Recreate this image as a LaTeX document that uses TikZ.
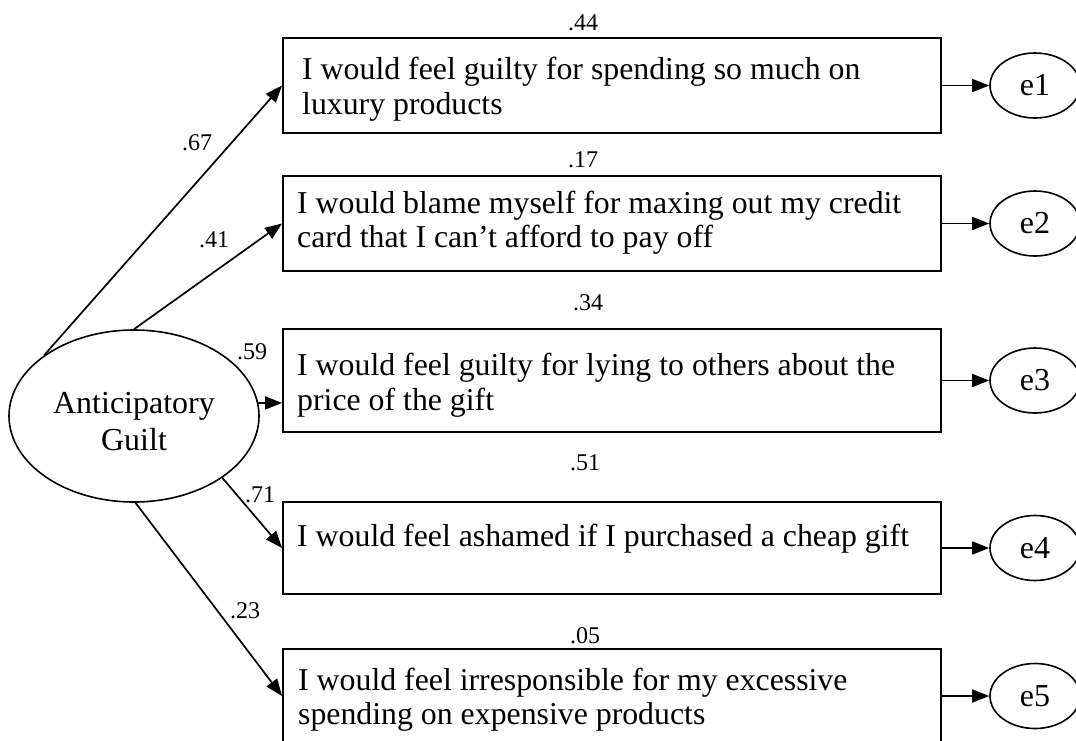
\documentclass[tikz,border=0pt]{standalone}
\usepackage{fontspec}
\setmainfont{Liberation Serif}
\usetikzlibrary{shapes.geometric,arrows.meta}
\begin{document}
\begin{tikzpicture}[x=1pt,y=-1pt,
  itembox/.style={draw,line width=1.9pt,minimum width=658pt,inner sep=0pt},
  itemtext/.style={anchor=north west,inner sep=0pt,align=left,font=\fontsize{31.8}{34.5}\selectfont},
  errnode/.style={draw,ellipse,line width=1.6pt,minimum width=90pt,minimum height=65pt,inner sep=0pt,font=\fontsize{32}{34.5}\selectfont},
  latent/.style={draw,ellipse,line width=1.6pt,minimum width=250pt,minimum height=172pt,inner sep=0pt},
  latenttext/.style={inner sep=0pt,align=center,font=\fontsize{32}{37}\selectfont},
  link/.style={line width=1.7pt,-{Triangle[length=17pt,width=13pt]}},
  coef/.style={inner sep=0pt,font=\fontsize{24}{28}\selectfont}
]
\useasboundingbox (0,0) rectangle (1076,740);
\clip (0,0) rectangle (1076,740);

% observed indicators
\node[itembox,minimum height=95pt]  (b1) at (612,85.5)  {};
\node[itembox,minimum height=95pt]  (b2) at (612,223.5) {};
\node[itembox,minimum height=103pt] (b3) at (612,380.5) {};
\node[itembox,minimum height=92pt]  (b4) at (612,548)   {};
\node[itembox,minimum height=94pt]  (b5) at (612,696)   {};

\node[itemtext] (t1) at (302,55.5)  {\strut I would feel guilty for spending so much on\\luxury products};
\node[itemtext] (t2) at (297,188.85) {\strut I would blame myself for maxing out my credit\\card that I can’t afford to pay off};
\node[itemtext] (t3) at (297,351.5) {\strut I would feel guilty for lying to others about the\\price of the gift};
\node[itemtext] (t4) at (297,522.5) {\strut I would feel ashamed if I purchased a cheap gift};
\node[itemtext] (t5) at (298,666) {\strut I would feel irresponsible for my excessive\\spending on expensive products};

% error terms
\node[errnode] (e1) at (1035,85.5)  {e1};
\node[errnode] (e2) at (1035,223.5) {e2};
\node[errnode] (e3) at (1035,380.5) {e3};
\node[errnode] (e4) at (1035,548)   {e4};
\node[errnode] (e5) at (1035,696)   {e5};

\foreach \i in {1,...,5} \draw[link] (b\i) -- (e\i);

% latent factor
\node[latent] (ag) at (134,416) {};
\node[latenttext] (agt) at (134,421.3) {Anticipatory\\Guilt};

\draw[link] (ag.146) -- (b1.west);
\draw[link] (ag.90)  -- (b2.west);
\draw[link] (ag.6)   -- (ag.6 -| b3.west);
\draw[link] (ag.-35) -- (b4.west);
\draw[link] (ag.-89) -- (b5.west);

% loadings
\node[coef] (l1) at (197,143) {.67};
\node[coef] (l2) at (214,240) {.41};
\node[coef] (l3) at (252,352) {.59};
\node[coef] (l4) at (260,495) {.71};
\node[coef] (l5) at (245,611) {.23};

% squared multiple correlations
\node[coef] (r1) at (583,23)  {.44};
\node[coef] (r2) at (583,160) {.17};
\node[coef] (r3) at (588,303) {.34};
\node[coef] (r4) at (585,463) {.51};
\node[coef] (r5) at (585,636) {.05};
\end{tikzpicture}
\end{document}
